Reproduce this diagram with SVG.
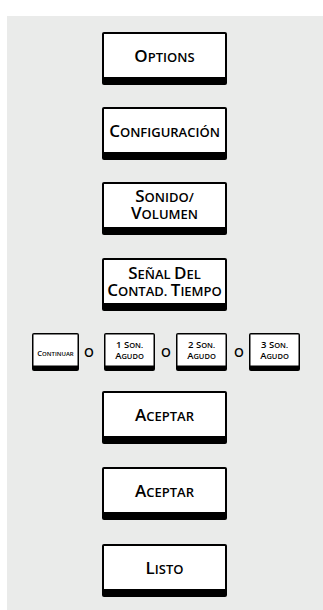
<svg xmlns="http://www.w3.org/2000/svg" width="323" height="610" viewBox="0 0 323 610">
<style>
.bg{fill:#eaebea}
.k{fill:#000}
.w{fill:#fff}
.t{font-family:"Open Sans","Noto Sans",sans-serif;font-weight:600;fill:#000;text-anchor:middle}
.L{font-size:17px}
.S{font-size:13px}
.sL{font-size:9.5px}
.sS{font-size:7.5px}
.cL{font-size:7.5px}
.cS{font-size:6px}
.o{font-family:"Open Sans","Noto Sans",sans-serif;font-weight:600;font-size:12.5px;fill:#000;text-anchor:middle}
</style>
<rect class="bg" x="7" y="16" width="316" height="594"/>

<g id="options">
<rect class="k" x="102" y="32" width="125" height="53" rx="2"/>
<rect class="w" x="104" y="34" width="121" height="43"/>
<text class="t" x="164.5" y="62"><tspan class="L">O</tspan><tspan class="S">PTIONS</tspan></text>
</g>

<g id="configuracion">
<rect class="k" x="102" y="107" width="125" height="53" rx="2"/>
<rect class="w" x="104" y="109" width="121" height="43"/>
<text class="t" x="164.5" y="137"><tspan class="L">C</tspan><tspan class="S">ONFIGURACIÓN</tspan></text>
</g>

<g id="sonido">
<rect class="k" x="102" y="182" width="125" height="53" rx="2"/>
<rect class="w" x="104" y="184" width="121" height="43"/>
<text class="t" x="164.5" y="202"><tspan class="L">S</tspan><tspan class="S">ONIDO/</tspan></text>
<text class="t" x="164.5" y="219"><tspan class="L">V</tspan><tspan class="S">OLUMEN</tspan></text>
</g>

<g id="senal">
<rect class="k" x="102" y="258" width="125" height="53" rx="2"/>
<rect class="w" x="104" y="260" width="121" height="43"/>
<text class="t" x="164.5" y="279"><tspan class="L">S</tspan><tspan class="S">EÑAL </tspan><tspan class="L">D</tspan><tspan class="S">EL</tspan></text>
<text class="t" x="164.5" y="296"><tspan class="L">C</tspan><tspan class="S">ONTAD. </tspan><tspan class="L">T</tspan><tspan class="S">IEMPO</tspan></text>
</g>

<g id="continuar">
<rect class="k" x="32" y="333" width="47" height="38" rx="2"/>
<rect class="w" x="33.5" y="334.5" width="44" height="31"/>
<text class="t" x="55.5" y="356"><tspan class="cL">C</tspan><tspan class="cS">ONTINUAR</tspan></text>
</g>
<text class="o" x="89" y="357">O</text>

<g id="son1">
<rect class="k" x="104" y="333" width="51" height="38" rx="2"/>
<rect class="w" x="105.5" y="334.5" width="48" height="31"/>
<text class="t" x="129.5" y="348"><tspan class="sL">1 S</tspan><tspan class="sS">ON.</tspan></text>
<text class="t" x="129.5" y="359"><tspan class="sL">A</tspan><tspan class="sS">GUDO</tspan></text>
</g>
<text class="o" x="166" y="357">O</text>

<g id="son2">
<rect class="k" x="176" y="333" width="51" height="38" rx="2"/>
<rect class="w" x="177.5" y="334.5" width="48" height="31"/>
<text class="t" x="201.5" y="348"><tspan class="sL">2 S</tspan><tspan class="sS">ON.</tspan></text>
<text class="t" x="201.5" y="359"><tspan class="sL">A</tspan><tspan class="sS">GUDO</tspan></text>
</g>
<text class="o" x="239" y="357">O</text>

<g id="son3">
<rect class="k" x="249" y="333" width="51" height="38" rx="2"/>
<rect class="w" x="250.5" y="334.5" width="48" height="31"/>
<text class="t" x="274.5" y="348"><tspan class="sL">3 S</tspan><tspan class="sS">ON.</tspan></text>
<text class="t" x="274.5" y="359"><tspan class="sL">A</tspan><tspan class="sS">GUDO</tspan></text>
</g>

<g id="aceptar1">
<rect class="k" x="102" y="391" width="125" height="53" rx="2"/>
<rect class="w" x="104" y="393" width="121" height="43"/>
<text class="t" x="164.5" y="421"><tspan class="L">A</tspan><tspan class="S">CEPTAR</tspan></text>
</g>

<g id="aceptar2">
<rect class="k" x="102" y="467" width="125" height="53" rx="2"/>
<rect class="w" x="104" y="469" width="121" height="43"/>
<text class="t" x="164.5" y="497"><tspan class="L">A</tspan><tspan class="S">CEPTAR</tspan></text>
</g>

<g id="listo">
<rect class="k" x="102" y="544" width="125" height="53" rx="2"/>
<rect class="w" x="104" y="546" width="121" height="43"/>
<text class="t" x="164.5" y="574"><tspan class="L">L</tspan><tspan class="S">ISTO</tspan></text>
</g>
</svg>
